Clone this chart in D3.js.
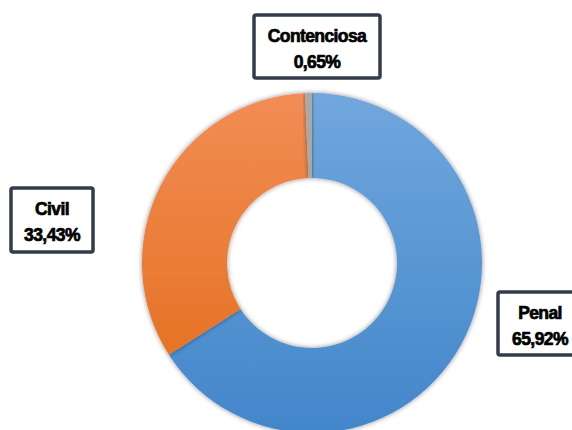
<!DOCTYPE html>
<html><head><meta charset="utf-8">
<script src="https://cdn.jsdelivr.net/npm/d3@7"></script>
<style>html,body{margin:0;padding:0;background:#fff;overflow:hidden}</style>
</head><body>
<svg id="c" width="572" height="430"></svg>
<script>
const categories = ["Penal", "Civil", "Contenciosa"];
const values = [65.92, 33.43, 0.65];
const valueLabels = ["65,92%", "33,43%", "0,65%"];

const svg = d3.select("#c");
const cx = 312, cy = 263, rOuter = 170, rInner = 85;

const defs = svg.append("defs");
const grads = [
  ["#70a7dd", "#4286ca"],
  ["#f18d55", "#e46b17"],
  ["#a9a9a9", "#a5a5a5"]
];
grads.forEach((g, i) => {
  const lg = defs.append("linearGradient").attr("id", "g" + i)
    .attr("gradientUnits", "userSpaceOnUse")
    .attr("x1", 0).attr("y1", -rOuter).attr("x2", 0).attr("y2", rOuter);
  lg.append("stop").attr("offset", "0%").attr("stop-color", g[0]);
  lg.append("stop").attr("offset", "100%").attr("stop-color", g[1]);
});
const f = defs.append("filter").attr("id", "sh").attr("x", "-20%").attr("y", "-20%").attr("width", "140%").attr("height", "140%");
f.append("feDropShadow").attr("dx", 0).attr("dy", 0).attr("stdDeviation", 2.5).attr("flood-color", "#000").attr("flood-opacity", 0.45);

const pie = d3.pie().sort(null).value(d => d)(values);
const arc = d3.arc().innerRadius(rInner).outerRadius(rOuter);

const g = svg.append("g").attr("transform", `translate(${cx},${cy})`);
g.selectAll("path").data(pie).join("path")
  .attr("d", arc)
  .attr("fill", (d, i) => `url(#g${i})`)
  .attr("filter", "url(#sh)");

// label boxes
const boxes = [
  { x: 498, y: 292, w: 86, h: 63 },
  { x: 11, y: 188, w: 82, h: 64 },
  { x: 254, y: 15, w: 126, h: 63 }
];
const lab = svg.append("g");
categories.forEach((c, i) => {
  const b = boxes[i];
  lab.append("rect").attr("x", b.x).attr("y", b.y).attr("width", b.w).attr("height", b.h)
    .attr("rx", 2).attr("fill", "#fff").attr("stroke", "#333c4b").attr("stroke-width", 3.5);
  const t = lab.append("text").attr("text-anchor", "middle")
    .attr("font-family", "Liberation Sans, Arial, sans-serif")
    .attr("font-weight", "bold").attr("font-size", 17.5).attr("fill", "#000")
    .attr("stroke", "#000").attr("stroke-width", 0.7)
    .attr("letter-spacing", -0.6);
  const tx = i === 0 ? 540 : b.x + b.w / 2;
  t.append("tspan").attr("x", tx).attr("y", b.y + 27).text(c);
  t.append("tspan").attr("x", tx).attr("y", b.y + 53).text(valueLabels[i]);
});
</script>
</body></html>
